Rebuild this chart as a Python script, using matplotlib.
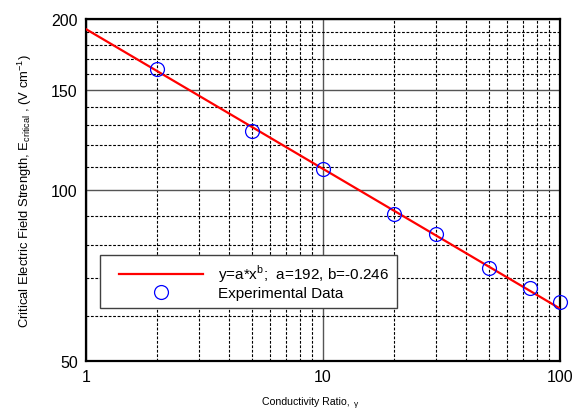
import numpy as np
import matplotlib
matplotlib.use("Agg")
import matplotlib.pyplot as plt
from matplotlib.ticker import FixedLocator, NullFormatter, FixedFormatter
from matplotlib.legend_handler import HandlerLine2D

plt.rcParams['font.family'] = ['Liberation Sans', 'DejaVu Sans']

# data
ratio = [2, 5, 10, 20, 30, 50, 75, 100]
e_crit = [163.3, 127.2, 108.9, 90.7, 83.7, 72.8, 67.2, 63.6]
fit_a = 192
fit_b = -0.246
x_ticks = [1, 10, 100]
x_tick_labels = ["1", "10", "100"]
y_ticks = [50, 100, 150, 200]
y_tick_labels = ["50", "100", "150", "200"]

fig = plt.figure(figsize=(5.75, 4.10), dpi=100)
ax = fig.add_axes([0.1496, 0.117, 0.8244, 0.834])

xf = np.logspace(0, 2, 200)
fit_line, = ax.plot(xf, fit_a * xf ** fit_b, color='#ff0000', lw=1.6,
                    label=r'y=a*x$^{\mathregular{b}}$;  a=192, b=-0.246', zorder=3)
pts, = ax.plot(ratio, e_crit, linestyle='none', marker='o', ms=10, mfc='none',
               mec='#0000ff', mew=0.9, label='Experimental Data', zorder=4, clip_on=False)

ax.set_xscale('log')
ax.set_yscale('log')
ax.set_xlim(1, 100)
ax.set_ylim(50, 200)

ax.xaxis.set_major_locator(FixedLocator(x_ticks))
ax.xaxis.set_major_formatter(FixedFormatter(x_tick_labels))
xminor = [m * d for d in (1, 10) for m in range(2, 10)]
ax.xaxis.set_minor_locator(FixedLocator(xminor))
ax.xaxis.set_minor_formatter(NullFormatter())

ax.yaxis.set_major_locator(FixedLocator(y_ticks))
ax.yaxis.set_major_formatter(FixedFormatter(y_tick_labels))
yminor = [v for v in range(60, 200, 10) if v not in y_ticks]
ax.yaxis.set_minor_locator(FixedLocator(yminor))
ax.yaxis.set_minor_formatter(NullFormatter())

ax.grid(which='major', color='#555555', lw=1.0, ls='-')
ax.grid(which='minor', color='black', lw=0.8, ls=(0, (2.5, 1.5)))
ax.tick_params(which='both', direction='in', length=0, labelsize=11.5, pad=6)
for s in ax.spines.values():
    s.set_linewidth(1.6)

xl = ax.set_xlabel('Conductivity Ratio,', fontsize=7.6, ha='left', va='top')
ax.xaxis.set_label_coords(0.371, -0.102)
ax.annotate('γ', xy=(1, 0), xycoords=xl, xytext=(3, -1), textcoords='offset points',
            ha='left', va='bottom', fontsize=6)
ax.set_ylabel(r'Critical Electric Field Strength, E$_{\mathregular{critical}}$ , (V cm$^{\mathregular{-1}}$)',
              fontsize=9.4, labelpad=12)

hpad = 0.72
leg = ax.legend(handler_map={fit_line: HandlerLine2D(xpad=hpad), pts: HandlerLine2D(xpad=hpad)},
                loc='upper left', bbox_to_anchor=(0.03, 0.31), borderaxespad=0,
                fontsize=11, fancybox=False, shadow=False, framealpha=1,
                edgecolor='#404040', handlelength=5.5 + hpad, borderpad=0.5,
                labelspacing=0.12, handletextpad=1.0)
leg.get_frame().set_linewidth(1.0)

fig.savefig('out.png', dpi=100)
